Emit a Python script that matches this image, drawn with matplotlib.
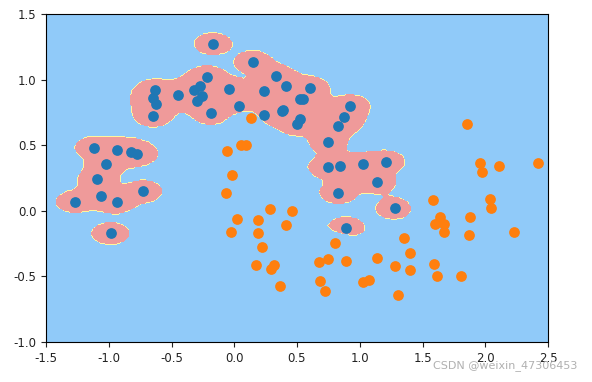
import numpy as np
import matplotlib
matplotlib.use("Agg")
import matplotlib.pyplot as plt
from matplotlib.colors import ListedColormap

plt.rcParams['axes.unicode_minus'] = False

# class 0 (blue) points
x0_pts = [-0.170, 0.152, 0.332, -0.218, 0.413, 0.602, 0.236, -0.041, -0.269, -0.317,
          -0.254, -0.293, -0.449, -0.629, -0.647, -0.626, -0.647, -0.182, 0.041, 0.236,
          0.377, 0.392, 0.521, 0.548, 0.521, 0.503, 0.926, 0.878, 0.830, 0.746,
          0.746, 0.842, 1.023, 1.209, 1.137, 0.830, 1.281, 0.890, -1.116, -0.938,
          -0.824, -0.773, -1.020, -1.092, -0.725, -1.059, -0.938, -1.272, -0.986]
y0_pts = [1.273, 1.135, 1.031, 1.020, 0.949, 0.939, 0.916, 0.929, 0.954, 0.918,
          0.872, 0.839, 0.880, 0.918, 0.860, 0.811, 0.724, 0.742, 0.801, 0.732,
          0.758, 0.770, 0.852, 0.849, 0.702, 0.663, 0.801, 0.712, 0.650, 0.526,
          0.332, 0.342, 0.355, 0.375, 0.217, 0.138, 0.018, -0.130, 0.482, 0.467,
          0.449, 0.434, 0.355, 0.240, 0.148, 0.112, 0.066, 0.069, -0.173]

# class 1 (orange) points
x1_pts = [0.137, 1.857, -0.056, 0.053, 0.095, -0.017, -0.065, 1.962, 1.974, 2.110,
          2.419, 1.584, 2.035, 2.047, 0.281, 0.458, 0.020, 0.188, -0.029, 0.188,
          0.413, 0.221, 0.806, 1.641, 1.602, 1.671, 1.671, 1.881, 1.869, 2.227,
          1.356, 1.404, 1.137, 0.746, 0.677, 0.890, 0.176, 0.320, 0.290, 0.362,
          1.284, 1.404, 1.593, 1.617, 1.809, 0.686, 0.722, 1.029, 1.077, 1.308]
y1_pts = [0.709, 0.661, 0.459, 0.503, 0.503, 0.276, 0.138, 0.365, 0.296, 0.344,
          0.365, 0.079, 0.089, 0.018, 0.010, 0.000, -0.061, -0.071, -0.161, -0.173,
          -0.107, -0.278, -0.245, -0.046, -0.102, -0.097, -0.163, -0.048, -0.186, -0.161,
          -0.209, -0.324, -0.357, -0.370, -0.393, -0.380, -0.416, -0.416, -0.446, -0.574,
          -0.423, -0.449, -0.403, -0.495, -0.495, -0.538, -0.612, -0.543, -0.531, -0.645]

axis_range = [-1.5, 2.5, -1.0, 1.5]
xticks = [-1.5, -1.0, -0.5, 0.0, 0.5, 1.0, 1.5, 2.0, 2.5]
yticks = [-1.0, -0.5, 0.0, 0.5, 1.0, 1.5]

X0 = np.column_stack([x0_pts, y0_pts])
X1 = np.column_stack([x1_pts, y1_pts])

# anisotropic RBF-style decision function (high gamma)
ax_s, ay_s = 0.157, 0.089
k = 1.4

gx = np.linspace(axis_range[0], axis_range[1], 400)
gy = np.linspace(axis_range[2], axis_range[3], 250)
xx, yy = np.meshgrid(gx, gy)

def kern(P):
    s = np.zeros_like(xx)
    for px, py in P:
        d2 = ((xx - px) / ax_s) ** 2 + ((yy - py) / ay_s) ** 2
        s += np.exp(-k * d2)
    return s

f = kern(X0) - kern(X1) - np.exp(-k)
pred = np.where(f > 0, 0, 1)

fig = plt.figure(figsize=(5.92, 3.82), dpi=100)
ax = fig.add_axes([46 / 592, 1 - 342 / 382, 502 / 592, 328 / 382])
cmap = ListedColormap(['#EF9A9A', '#FFF59D', '#90CAF9'])
ax.contourf(xx, yy, pred, cmap=cmap)
ax.scatter(X0[:, 0], X0[:, 1], s=45, color='#1f77b4', zorder=3)
ax.scatter(X1[:, 0], X1[:, 1], s=45, color='#ff7f0e', zorder=3)
ax.set_xlim(axis_range[0], axis_range[1])
ax.set_ylim(axis_range[2], axis_range[3])
ax.set_xticks(xticks)
ax.set_yticks(yticks)
ax.set_xticklabels([f"{t:.1f}" for t in xticks])
ax.set_yticklabels([f"{t:.1f}" for t in yticks])
ax.tick_params(labelsize=8.5, colors='#222222')

fig.text(577 / 592, 1 - 366 / 382, "CSDN @weixin_47306453", ha='right', va='center',
         fontsize=8, color='#b0b0b0')

fig.savefig("out.png", dpi=100)
